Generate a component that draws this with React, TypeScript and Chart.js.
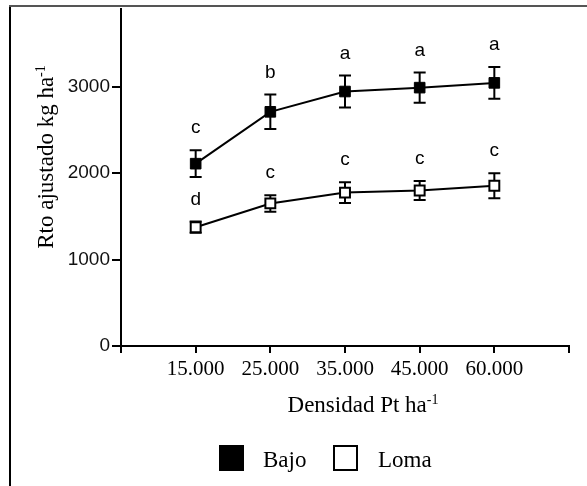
import React, { useEffect, useRef } from 'react';
import { Chart, registerables } from 'chart.js';

Chart.register(...registerables);

// Plant density categories (x axis) and yield per landscape position
const densities = ['15.000', '25.000', '35.000', '45.000', '60.000'];
const bajoMeans = [2110, 2710, 2945, 2990, 3045];
const bajoErrors = [155, 200, 185, 175, 185];
const bajoLetters = ['c', 'b', 'a', 'a', 'a'];
const lomaMeans = [1375, 1650, 1775, 1800, 1855];
const lomaErrors = [65, 95, 120, 110, 145];
const lomaLetters = ['d', 'c', 'c', 'c', 'c'];
const yTicks = [0, 1000, 2000, 3000];
const yMax = 3900;

const SERIF = '"Liberation Serif", "Times New Roman", serif';
const SANS = '"Liberation Sans", Arial, sans-serif';

function drawWithSup(
  ctx: CanvasRenderingContext2D,
  main: string,
  sup: string,
  cx: number,
  baseline: number,
  mainFont: string,
  supFont: string,
  rise: number
) {
  ctx.font = mainFont;
  const wMain = ctx.measureText(main).width;
  ctx.font = supFont;
  const wSup = ctx.measureText(sup).width;
  const start = cx - (wMain + wSup) / 2;
  ctx.textAlign = 'left';
  ctx.textBaseline = 'alphabetic';
  ctx.font = mainFont;
  ctx.fillText(main, start, baseline);
  ctx.font = supFont;
  ctx.fillText(sup, start + wMain, baseline - rise);
}

const decorations = {
  id: 'decorations',
  beforeDraw(chart: any) {
    const ctx = chart.ctx as CanvasRenderingContext2D;
    ctx.save();
    ctx.fillStyle = '#fff';
    ctx.fillRect(0, 0, chart.width, chart.height);
    // figure frame (left and top edges)
    ctx.lineWidth = 2;
    ctx.strokeStyle = '#000';
    ctx.beginPath();
    ctx.moveTo(10, 6);
    ctx.lineTo(10, chart.height);
    ctx.stroke();
    ctx.strokeStyle = '#555';
    ctx.beginPath();
    ctx.moveTo(9, 6);
    ctx.lineTo(chart.width, 6);
    ctx.stroke();
    ctx.restore();
  },
  beforeDatasetsDraw(chart: any) {
    // error bars, drawn under the markers
    const ctx = chart.ctx as CanvasRenderingContext2D;
    const yScale = chart.scales.y;
    ctx.save();
    ctx.strokeStyle = '#000';
    ctx.lineWidth = 2;
    chart.data.datasets.forEach((ds: any, i: number) => {
      const meta = chart.getDatasetMeta(i);
      meta.data.forEach((pt: any, j: number) => {
        const v = ds.data[j].y;
        const e = ds.errors[j];
        const yt = yScale.getPixelForValue(v + e);
        const yb = yScale.getPixelForValue(v - e);
        const x = pt.x;
        ctx.beginPath();
        ctx.moveTo(x, yt);
        ctx.lineTo(x, yb);
        ctx.moveTo(x - 6, yt);
        ctx.lineTo(x + 6, yt);
        ctx.moveTo(x - 6, yb);
        ctx.lineTo(x + 6, yb);
        ctx.stroke();
      });
    });
    ctx.restore();
  },
  afterDatasetsDraw(chart: any) {
    // significance letters above each error bar
    const ctx = chart.ctx as CanvasRenderingContext2D;
    const yScale = chart.scales.y;
    ctx.save();
    ctx.fillStyle = '#000';
    ctx.font = `19px ${SANS}`;
    ctx.textAlign = 'center';
    ctx.textBaseline = 'alphabetic';
    chart.data.datasets.forEach((ds: any, i: number) => {
      const meta = chart.getDatasetMeta(i);
      meta.data.forEach((pt: any, j: number) => {
        const yt = yScale.getPixelForValue(ds.data[j].y + ds.errors[j]);
        ctx.fillText(ds.letters[j], pt.x, yt - 17);
      });
    });
    ctx.restore();
  },
  afterDraw(chart: any) {
    const ctx = chart.ctx as CanvasRenderingContext2D;
    ctx.save();
    ctx.fillStyle = '#000';
    // x axis title
    drawWithSup(ctx, 'Densidad Pt ha', '-1', 363, 412, `23px ${SERIF}`, `14px ${SERIF}`, 8);
    // y axis title
    ctx.save();
    ctx.translate(53, 157);
    ctx.rotate(-Math.PI / 2);
    drawWithSup(ctx, 'Rto ajustado kg ha', '-1', 0, 0, `23px ${SERIF}`, `14px ${SERIF}`, 8);
    ctx.restore();
    // legend
    const legendX = [219, 333];
    const textX = [263, 378];
    chart.data.datasets.forEach((ds: any, i: number) => {
      const bx = legendX[i];
      ctx.fillStyle = ds.pointBackgroundColor;
      ctx.fillRect(bx, 445, 25, 26);
      ctx.strokeStyle = '#000';
      ctx.lineWidth = 2;
      ctx.strokeRect(bx + 1, 446, 23, 24);
      ctx.fillStyle = '#000';
      ctx.font = `23px ${SERIF}`;
      ctx.textAlign = 'left';
      ctx.textBaseline = 'alphabetic';
      ctx.fillText(ds.label, textX[i], 467);
    });
    ctx.restore();
  },
};

export default function App() {
  const canvasRef = useRef<HTMLCanvasElement | null>(null);

  useEffect(() => {
    if (!canvasRef.current) return;
    const chart = new Chart(canvasRef.current, {
      type: 'line',
      data: {
        datasets: [
          {
            label: 'Bajo',
            data: bajoMeans.map((y, i) => ({ x: i + 1, y })),
            errors: bajoErrors,
            letters: bajoLetters,
            borderColor: '#000',
            borderWidth: 2,
            pointStyle: 'rect',
            pointRadius: 7.5,
            pointBorderWidth: 1,
            pointBackgroundColor: '#000',
            pointBorderColor: '#000',
            tension: 0,
          } as any,
          {
            label: 'Loma',
            data: lomaMeans.map((y, i) => ({ x: i + 1, y })),
            errors: lomaErrors,
            letters: lomaLetters,
            borderColor: '#000',
            borderWidth: 2,
            pointStyle: 'rect',
            pointRadius: 7,
            pointBorderWidth: 2,
            pointBackgroundColor: '#fff',
            pointBorderColor: '#000',
            tension: 0,
          } as any,
        ],
      },
      options: {
        responsive: false,
        animation: false,
        layout: { padding: { left: 0, right: 18, top: 7, bottom: 0 } },
        plugins: {
          legend: { display: false },
          tooltip: { enabled: false },
          title: { display: false },
        },
        scales: {
          x: {
            type: 'linear',
            min: 0,
            max: densities.length + 1,
            afterBuildTicks: (s: any) => {
              s.ticks = Array.from({ length: densities.length + 2 }, (_, i) => ({ value: i }));
            },
            afterFit: (s: any) => {
              s.height = 140;
              s.paddingLeft = 0;
              s.paddingRight = 0;
            },
            ticks: {
              autoSkip: false,
              maxRotation: 0,
              padding: 4,
              color: '#000',
              font: { family: SERIF, size: 21 },
              callback: (v: any) => densities[Number(v) - 1] ?? '',
            },
            grid: {
              drawOnChartArea: false,
              drawTicks: true,
              tickLength: 7,
              lineWidth: 2,
              color: '#000',
            },
            border: { display: true, color: '#000', width: 2 },
          },
          y: {
            type: 'linear',
            min: 0,
            max: yMax,
            afterBuildTicks: (s: any) => {
              s.ticks = yTicks.map((v) => ({ value: v }));
            },
            afterFit: (s: any) => {
              s.width = 121;
              s.paddingTop = 0;
              s.paddingBottom = 0;
            },
            ticks: {
              padding: 2,
              color: '#111',
              font: { family: SANS, size: 19 },
              callback: (v: any) => String(v),
            },
            grid: {
              drawOnChartArea: false,
              drawTicks: true,
              tickLength: 9,
              lineWidth: 2,
              color: '#000',
            },
            border: { display: true, color: '#000', width: 2 },
          },
        },
      },
      plugins: [decorations],
    });
    return () => chart.destroy();
  }, []);

  return (
    <div style={{ position: 'absolute', left: 0, top: 0, width: 587, height: 486, background: '#fff' }}>
      <canvas ref={canvasRef} width={587} height={486} style={{ display: 'block' }} />
    </div>
  );
}
